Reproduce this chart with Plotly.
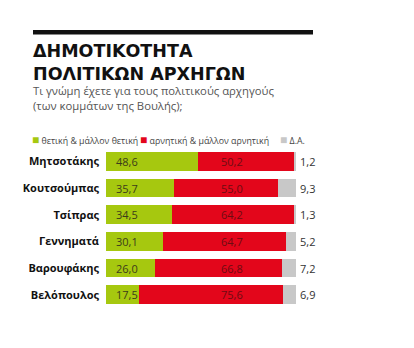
import plotly.graph_objects as go

leaders = ["Μητσοτάκης", "Κουτσούμπας", "Τσίπρας", "Γεννηματά", "Βαρουφάκης", "Βελόπουλος"]
positive = [48.6, 35.7, 34.5, 30.1, 26.0, 17.5]
negative = [50.2, 55.0, 64.2, 64.7, 66.8, 75.6]
dont_know = [1.2, 9.3, 1.3, 5.2, 7.2, 6.9]
series_names = ["θετική & μάλλον θετική", "αρνητική & μάλλον αρνητική", "Δ.Α."]

GREEN = "#a6c80f"
RED = "#e3061b"
GRAY = "#c8c8c8"
FONT = "Open Sans"

W, H = 414, 348
ML, MR, MT, MB = 106, 118, 148, 40
PW, PH = W - ML - MR, H - MT - MB


def px(x):
    return (x - ML) / PW


def py(y):
    return (H - MB - y) / PH


def fmt(v):
    return f"{v:.1f}".replace(".", ",")


fig = go.Figure()
for vals, col, name in zip([positive, negative, dont_know], [GREEN, RED, GRAY], series_names):
    fig.add_trace(go.Bar(y=leaders, x=vals, orientation="h", name=name,
                         marker=dict(color=col, line=dict(width=0)), hoverinfo="x+name"))

ann = []
for lead, p, n, d in zip(leaders, positive, negative, dont_know):
    total = min(round(p + n + d, 1), 100)
    ann.append(dict(x=11, y=lead, xref="x", yref="y", text=fmt(p), showarrow=False,
                    xanchor="center", font=dict(family=FONT, size=11, color="#3c3c1a")))
    ann.append(dict(x=66.3, y=lead, xref="x", yref="y", text=fmt(n), showarrow=False,
                    xanchor="center", font=dict(family=FONT, size=11, color="#6e0c12")))
    ann.append(dict(x=total, y=lead, xref="x", yref="y", text=fmt(d), showarrow=False,
                    xanchor="left", xshift=2, font=dict(family=FONT, size=11, color="#333333")))

# titles
ann.append(dict(x=px(31), y=py(38.5), xref="paper", yref="paper", xanchor="left", yanchor="top",
                text="<b>ΔΗΜΟΤΙΚΟΤΗΤΑ<br>ΠΟΛΙΤΙΚΩΝ ΑΡΧΗΓΩΝ</b>", align="left", showarrow=False,
                font=dict(family="DejaVu Sans", size=17.5, color="#111111")))
ann.append(dict(x=px(31), y=py(81), xref="paper", yref="paper", xanchor="left", yanchor="top",
                text="Τι γνώμη έχετε για τους πολιτικούς αρχηγούς<br>(των κομμάτων της Βουλής);",
                align="left", showarrow=False,
                font=dict(family=FONT, size=11.3, color="#555555")))

# legend
legend_x = [30, 138, 278]
for lx, col, name in zip(legend_x, [GREEN, RED, GRAY], series_names):
    ann.append(dict(x=px(lx), y=py(139.5), xref="paper", yref="paper", xanchor="left", yanchor="middle",
                    text=f"<span style='color:{col};font-size:12px'>■</span> {name}", showarrow=False,
                    font=dict(family=FONT, size=8.8, color="#444444")))

fig.update_layout(
    width=W, height=H, margin=dict(l=ML, r=MR, t=MT, b=MB),
    barmode="stack", bargap=0.31, showlegend=False,
    paper_bgcolor="white", plot_bgcolor="white",
    xaxis=dict(range=[0, 100], visible=False, fixedrange=True),
    yaxis=dict(autorange="reversed", showgrid=False, zeroline=False, showline=False, ticks="",
               tickfont=dict(family=FONT, size=11, color="#111111"), ticklabelstandoff=6,
               tickvals=leaders, ticktext=[f"<b>{l}</b>" for l in leaders]),
    annotations=ann,
    shapes=[dict(type="rect", xref="paper", yref="paper", x0=px(33), x1=px(313), y0=py(30), y1=py(34.5),
                 fillcolor="#111111", line=dict(width=0))],
)

fig.write_html("out.html")
